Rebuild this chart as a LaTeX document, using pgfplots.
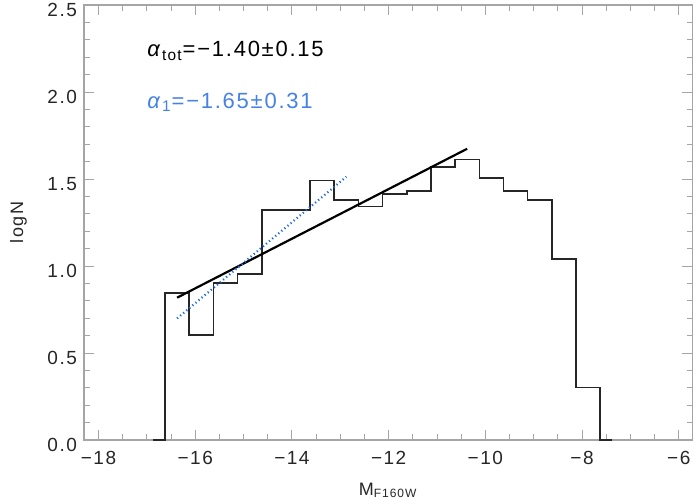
\documentclass[border=0pt]{standalone}
\usepackage{fontspec}
\setmainfont{Liberation Sans}[LetterSpace=8]
\usepackage{pgfplots}
\pgfplotsset{compat=1.18}

\definecolor{axgray}{RGB}{165,165,165}
\definecolor{fitblue}{RGB}{35,105,230}
\definecolor{txtblue}{RGB}{70,130,230}

\begin{document}
\begin{tikzpicture}
\begin{axis}[
  scale only axis,
  width=304.15pt, height=217.5pt,
  xmin=-18.3, xmax=-5.72,
  ymin=0, ymax=2.5,
  xtick={-18,-16,-14,-12,-10,-8,-6},
  xticklabels={−18,−16,−14,−12,−10,−8,−6},
  ytick={0,0.5,1,1.5,2,2.5},
  yticklabels={0.0,0.5,1.0,1.5,2.0,2.5},
  minor x tick num=3,
  minor y tick num=4,
  tick align=inside,
  major tick length=5pt,
  minor tick length=2.8pt,
  axis line style={axgray, line width=0.6pt},
  every tick/.style={axgray, line width=0.5pt},
  tick label style={font=\fontsize{9.5}{10}\selectfont, text=black!85},
  xticklabel style={yshift=-2pt},
  yticklabel style={yshift=-2.5pt},
  xlabel={M\textsubscript{F160W}},
  ylabel={logN},
  label style={font=\fontsize{9}{10}\selectfont, text=black!85},
  xlabel style={at={(axis description cs:0.5,-0.115)}, anchor=center},
  ylabel style={at={(axis description cs:-0.1077,0.5)}, anchor=center},
  clip=false,
]
% histogram of log counts per 0.5 mag bin
\addplot[const plot mark mid, draw=black!85, line width=0.8pt] coordinates {
  (-16.875,0) (-16.375,0.845) (-15.875,0.602) (-15.375,0.903) (-14.875,0.954)
  (-14.375,1.322) (-13.875,1.322) (-13.375,1.491) (-12.875,1.380) (-12.375,1.342)
  (-11.875,1.415) (-11.375,1.431) (-10.875,1.568) (-10.375,1.613) (-9.875,1.505)
  (-9.375,1.431) (-8.875,1.380) (-8.375,1.041) (-7.875,0.301) (-7.375,0)
};
% total fit
\addplot[black, line width=1.1pt] coordinates {(-16.375,0.818) (-10.375,1.674)};
% bright-end fit
\addplot[fitblue, line width=1.1pt, dash pattern=on 0.6pt off 1.4pt] coordinates {(-16.375,0.699) (-12.875,1.513)};

\node[anchor=west, inner sep=0pt, text=black, font=\fontsize{11}{12}\selectfont]
  at (axis cs:-17.0,2.236) {\textit{α}\textsubscript{tot}=−1.40±0.15};
\node[anchor=west, inner sep=0pt, text=txtblue, font=\fontsize{11}{12}\selectfont]
  at (axis cs:-17.0,1.94) {\textit{α}\textsubscript{1}=−1.65±0.31};
\end{axis}
\pgfresetboundingbox
\path[use as bounding box] (-42pt,-30pt) rectangle (307.99pt,220pt);
\end{tikzpicture}
\end{document}
